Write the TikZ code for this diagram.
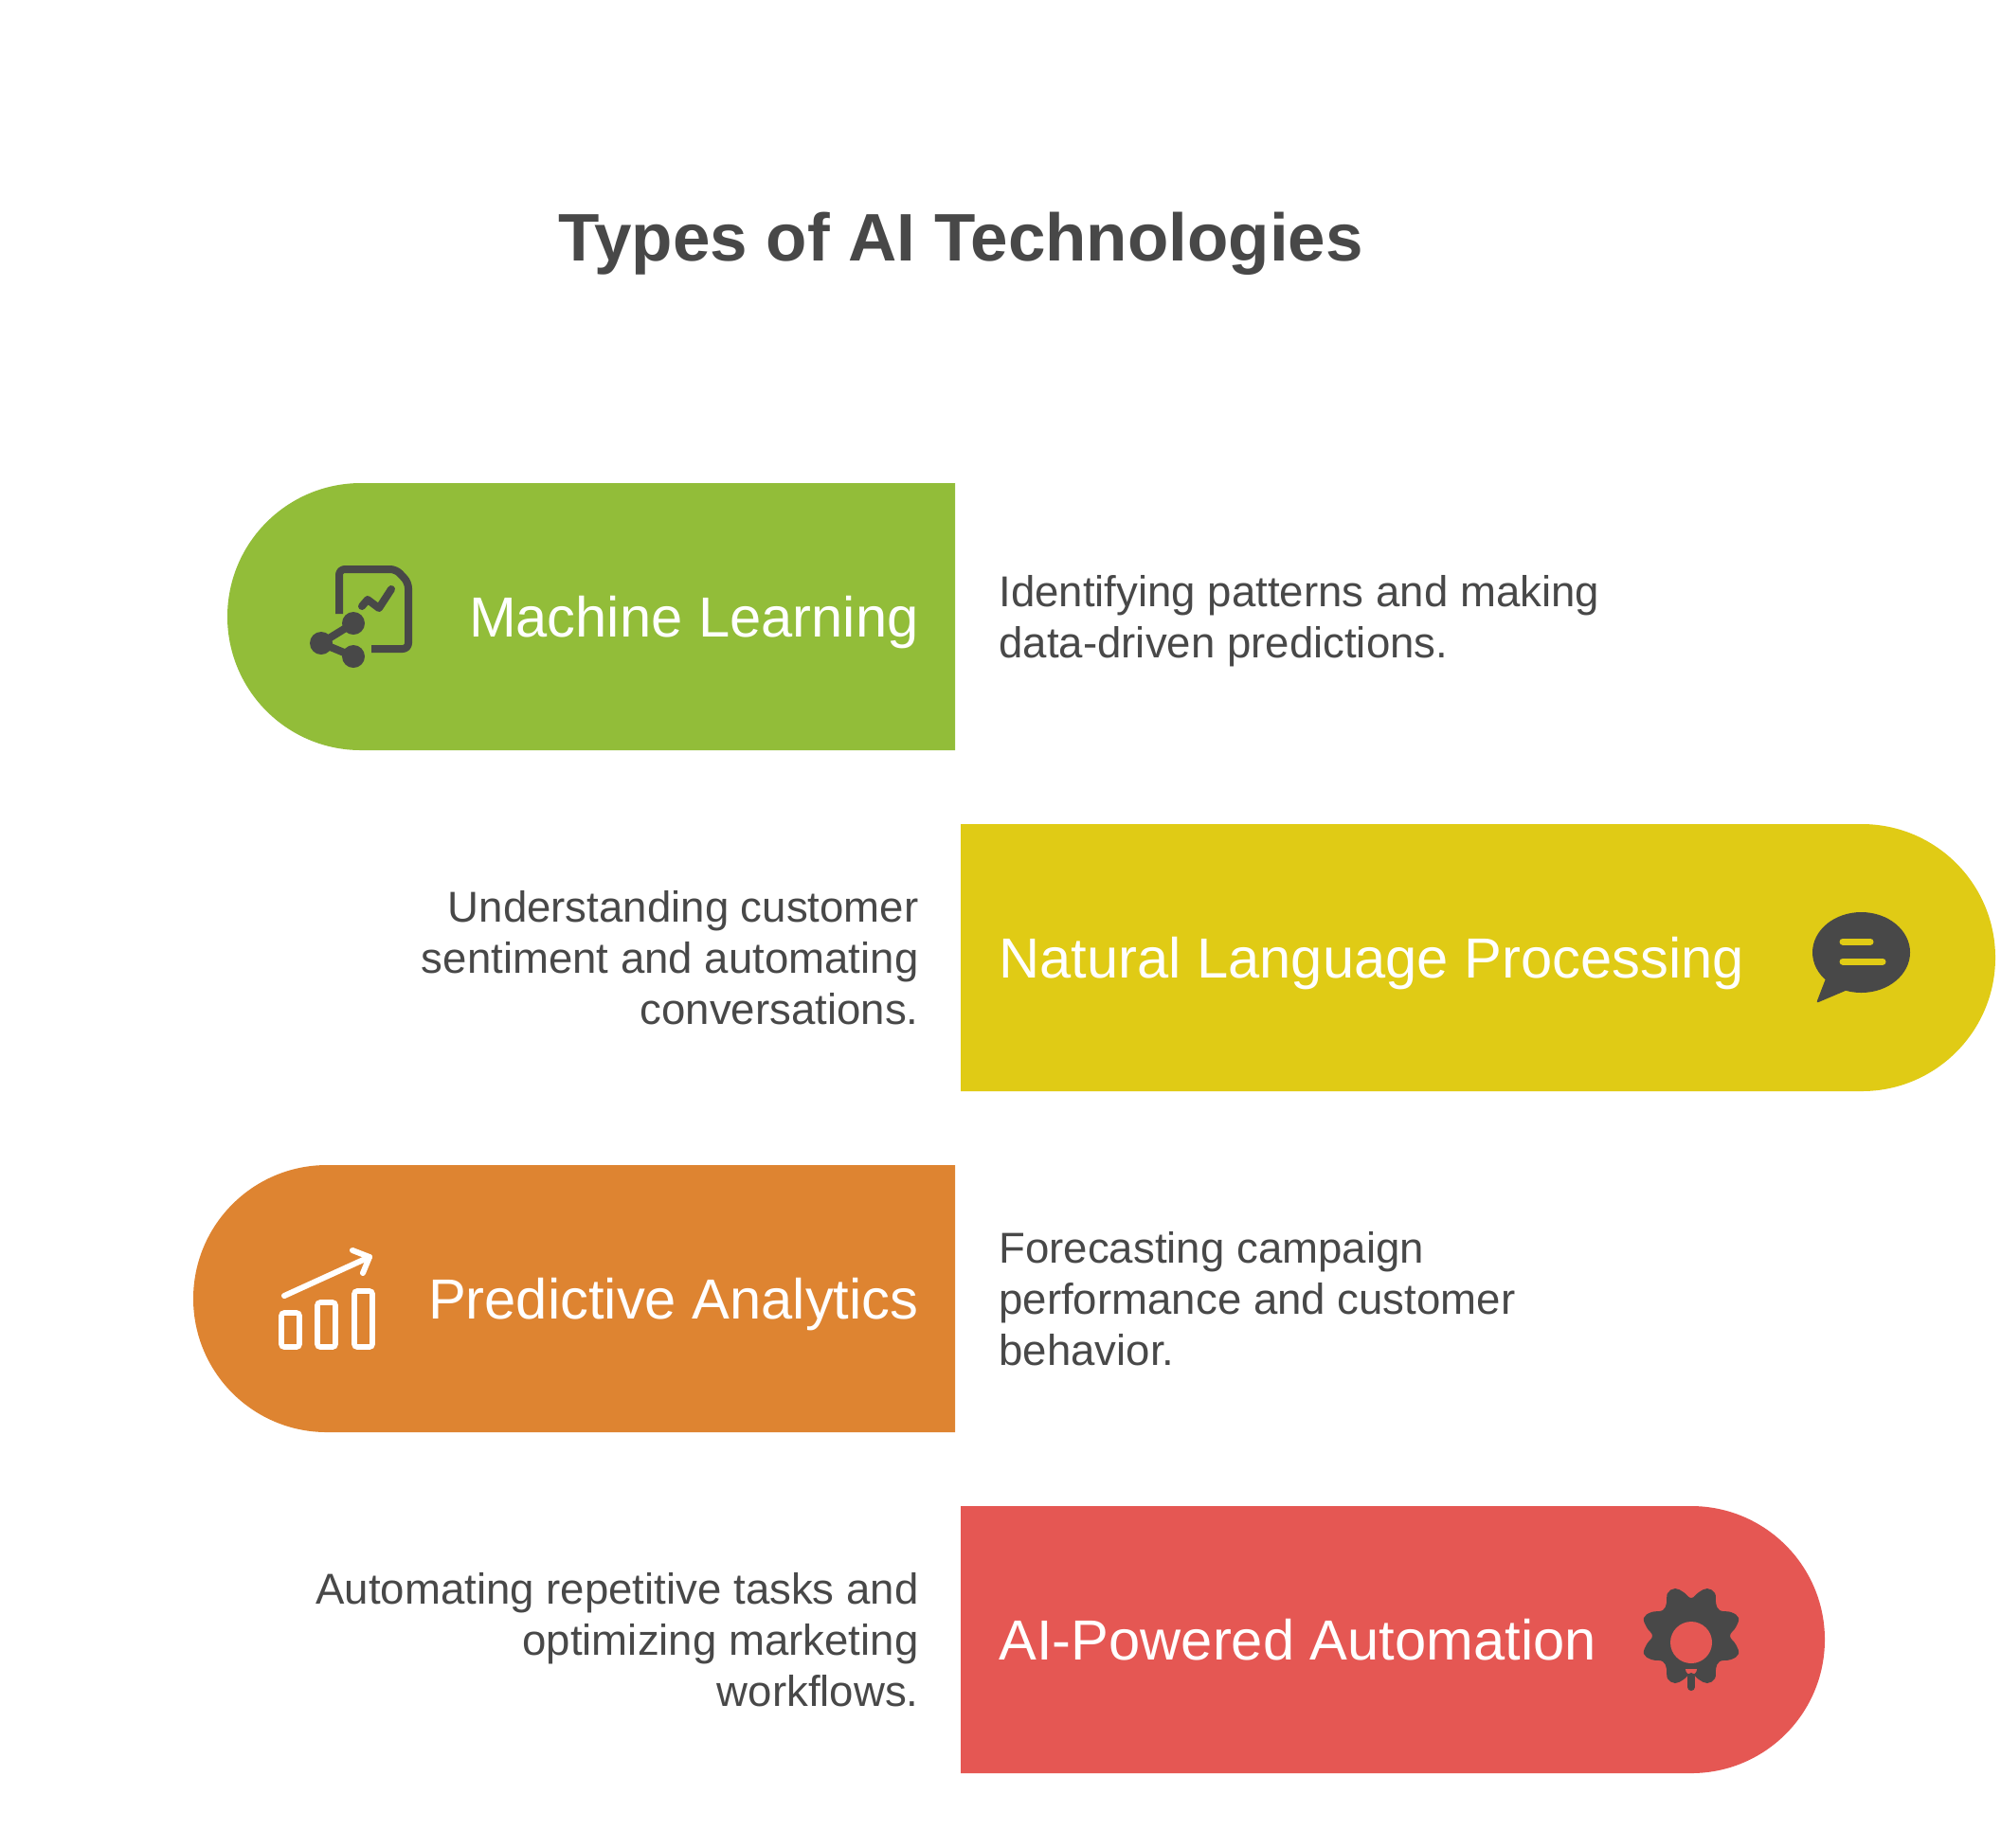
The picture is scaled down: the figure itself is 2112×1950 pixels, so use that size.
\documentclass[tikz,border=0pt]{standalone}
\usepackage{fontspec}
\setmainfont{Liberation Sans}
\definecolor{mlgreen}{HTML}{92BD39}
\definecolor{nlpyellow}{HTML}{E0CB15}
\definecolor{paorange}{HTML}{DE8431}
\definecolor{autored}{HTML}{E55753}
\definecolor{inkgrey}{HTML}{484848}
\tikzset{
	bandlabel/.style={text=white, font=\fontsize{29.85}{36}\selectfont, inner sep=0pt},
	sidetext/.style={text=inkgrey, font=\fontsize{22.8}{27}\selectfont, inner sep=0pt},
	iconline/.style={line cap=round, line join=round},
}
\begin{document}
\begin{tikzpicture}[x=0.5pt, y=-0.5pt]
	\useasboundingbox (0,0) rectangle (2112,1950);
	% Title
	\node[text=inkgrey, font=\fontsize{35.5}{42}\selectfont\bfseries, inner sep=0pt] (title) at (1014,257) {Types of AI Technologies};
	
	% Bands
	\fill[mlgreen] (1008,510) -- (381,510) arc[start angle=90, end angle=270, radius=70.5pt] -- (1008,792) -- cycle;
	\fill[nlpyellow] (1014,870) -- (1965,870) arc[start angle=90, end angle=-90, radius=70.5pt] -- (1014,1152) -- cycle;
	\fill[paorange] (1008,1230) -- (345,1230) arc[start angle=90, end angle=270, radius=70.5pt] -- (1008,1512) -- cycle;
	\fill[autored] (1014,1590) -- (1785,1590) arc[start angle=90, end angle=-90, radius=70.5pt] -- (1014,1872) -- cycle;
	
	% Band labels
	\node[bandlabel, anchor=base east] (mllabel) at (970,672) {Machine Learning};
	\node[bandlabel, anchor=base west] (nlplabel) at (1054,1032) {Natural Language Processing};
	\node[bandlabel, anchor=base east] (palabel) at (970,1392) {Predictive Analytics};
	\node[bandlabel, anchor=base west] (autolabel) at (1054,1752) {AI-Powered Automation};
	
	% Side texts
	\node[sidetext, anchor=west, align=left] (mltext) at (1054,656) {Identifying patterns and making\\data-driven predictions.};
	\node[sidetext, anchor=east, align=right] (nlptext) at (970,1011.5) {Understanding customer\\sentiment and automating\\conversations.};
	\node[sidetext, anchor=west, align=left] (patext) at (1054,1371.5) {Forecasting campaign\\performance and customer\\behavior.};
	\node[sidetext, anchor=east, align=right] (autotext) at (970,1731.5) {Automating repetitive tasks and\\optimizing marketing\\workflows.};
	
	% Document icon
	\draw[inkgrey, line width=4pt, line join=round, rounded corners=3pt] (358,648) -- (358,601) -- (418,601) -- (431,615) -- (431,685) -- (392,685);
	\draw[inkgrey, line width=4pt, iconline] (382,640) -- (388,633) -- (400,642) -- (413,622);
	\fill[inkgrey] (373,658) circle (6pt) (339,679) circle (6pt) (373,693) circle (6pt);
	\draw[inkgrey, line width=4pt] (373,658) -- (339,679) -- (373,693);
	
	% Speech bubble icon
	\fill[inkgrey] (1964.5,1005.5) ellipse (25.75pt and 21.25pt);
	\fill[inkgrey, rounded corners=1pt] (1927,1033) -- (1917,1059) -- (1950,1045) -- cycle;
	\draw[nlpyellow, line width=3.5pt, iconline] (1945,994) -- (1974,994);
	\draw[nlpyellow, line width=3.5pt, iconline] (1945,1015) -- (1987,1015);
	
	% Chart icon
	\foreach \barx/\bartop in {297/1386, 335/1375, 374/1363}
	{
		\draw[white, line width=2.8pt, rounded corners=1.5pt] (\barx,\bartop) rectangle ++(19,1422-\bartop);
	}
	\draw[white, line width=3pt, iconline] (300,1368) -- (390,1327);
	\draw[white, line width=3pt, iconline] (372,1320) -- (390,1327) -- (383,1344);
	
	% Gear icon
	\fill[inkgrey, shift={(1785,1727)}] plot[smooth cycle, tension=.7] coordinates {
		(0,-40) (8,-46) (17,-50) (25,-45) (26,-35) (30,-27) (42,-25) (50,-19) (47,-9) (41,0)
		(47,9) (50,19) (42,25) (30,27) (26,35) (25,45) (17,50) (8,46) (0,40)
		(-8,46) (-17,50) (-25,45) (-26,35) (-30,27) (-42,25) (-50,19) (-47,9) (-41,0)
		(-47,-9) (-50,-19) (-42,-25) (-30,-27) (-26,-35) (-25,-45) (-17,-50) (-8,-46)};
	\fill[autored] (1785,1734) circle (11pt);
	\fill[autored] (1779,1762) -- (1791,1762) arc[start angle=0, end angle=-180, radius=3pt] -- cycle;
	\draw[inkgrey, line width=4pt, iconline] (1785,1770) -- (1785,1781);
\end{tikzpicture}
\end{document}
